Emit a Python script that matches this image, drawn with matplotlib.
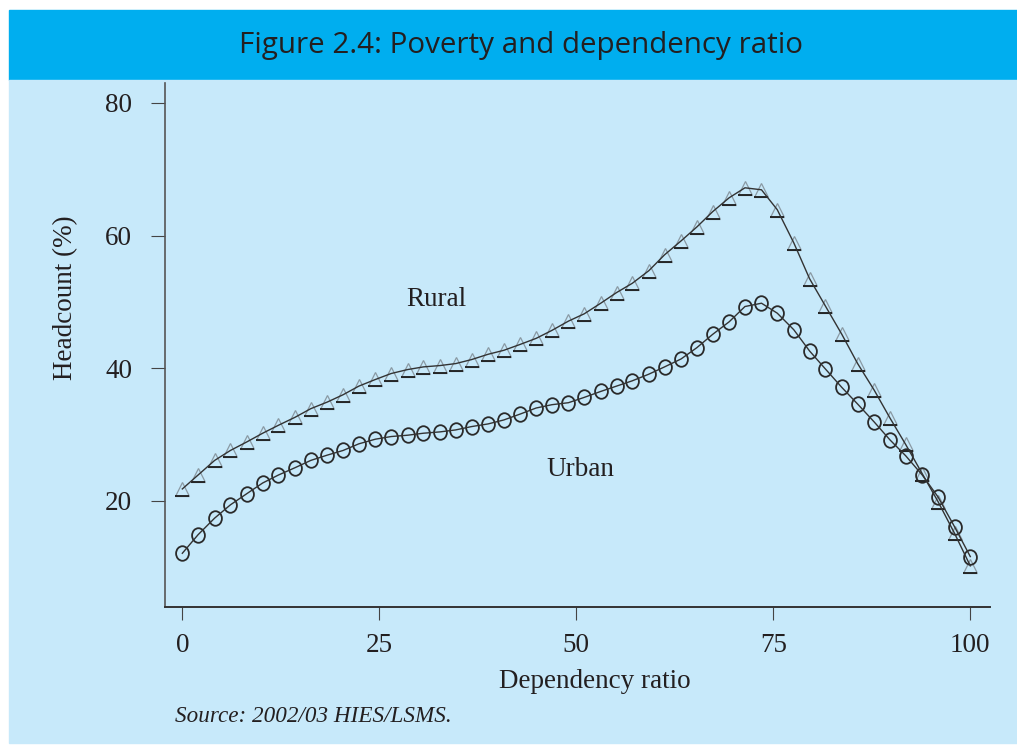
import matplotlib
matplotlib.use("Agg")
import matplotlib.pyplot as plt
from matplotlib.patches import Rectangle
from matplotlib.path import Path

# Dependency ratio positions of the 50 plotted points
dep_ratio = [0.0, 2.0, 4.1, 6.1, 8.2, 10.2, 12.2, 14.3, 16.3, 18.4,
             20.4, 22.4, 24.5, 26.5, 28.6, 30.6, 32.7, 34.7, 36.7, 38.8,
             40.8, 42.9, 44.9, 46.9, 49.0, 51.0, 53.1, 55.1, 57.1, 59.2,
             61.2, 63.3, 65.3, 67.3, 69.4, 71.4, 73.5, 75.5, 77.6, 79.6,
             81.6, 83.7, 85.7, 87.8, 89.8, 91.8, 93.9, 95.9, 98.0, 100.0]

# Headcount (%)
rural = [21.8, 23.9, 26.1, 27.6, 28.9, 30.2, 31.4, 32.6, 33.9, 34.9,
         36.0, 37.3, 38.3, 39.2, 39.8, 40.2, 40.4, 40.7, 41.3, 42.1,
         42.7, 43.6, 44.5, 45.7, 47.1, 48.2, 49.8, 51.4, 52.8, 54.7,
         57.1, 59.2, 61.3, 63.6, 65.7, 67.2, 66.9, 63.9, 58.9, 53.5,
         49.4, 45.1, 40.7, 36.7, 32.5, 28.5, 24.1, 19.9, 15.1, 10.2]

urban = [12.1, 14.9, 17.4, 19.4, 21.1, 22.7, 23.9, 25.0, 26.1, 26.9,
         27.6, 28.6, 29.3, 29.7, 29.9, 30.2, 30.4, 30.7, 31.2, 31.6,
         32.2, 33.1, 34.0, 34.5, 34.8, 35.6, 36.5, 37.3, 38.1, 39.1,
         40.2, 41.4, 43.1, 45.1, 47.0, 49.3, 49.8, 48.3, 45.8, 42.6,
         39.9, 37.1, 34.6, 31.9, 29.2, 26.8, 23.9, 20.6, 16.1, 11.6]

x_ticks = [0, 25, 50, 75, 100]
y_ticks = [20, 40, 60, 80]

HEADER = "#00aeef"
PANEL = "#c7e9fa"
INK = "#231f20"

plt.rcParams["font.family"] = ["Liberation Serif", "DejaVu Serif"]

fig = plt.figure(figsize=(10.17, 7.45), dpi=100)
W, H = 1017, 745
fig.patches.append(Rectangle((9 / W, 1 - 80 / H), 1 - 9 / W, 70 / H,
                             transform=fig.transFigure, color=HEADER, zorder=-2))
fig.patches.append(Rectangle((9 / W, 1 - 743 / H), 1 - 9 / W, 663 / H,
                             transform=fig.transFigure, color=PANEL, zorder=-2))
fig.text(521 / W, 1 - 45 / H, "Figure 2.4: Poverty and dependency ratio",
         family="Open Sans", fontsize=21.3, color=INK, ha="center", va="center")

ax = fig.add_axes([165 / W, 1 - 607 / H, 825 / W, 524 / H])
ax.set_facecolor("none")

# markers: gray open triangles with a dark base line, open ellipses
base_line = Path([(-1, -1), (1, -1)], [Path.MOVETO, Path.LINETO])
circ = Path.unit_circle()
ellipse = Path(circ.vertices * [0.88, 1.0], circ.codes)

ax.plot(dep_ratio, rural, color="#333333", lw=1.0, zorder=3)
ax.plot(dep_ratio, rural, ls="none", marker="^", ms=9.5, mfc="none",
        mec="#8a9aa4", mew=0.9, zorder=2)
ax.plot(dep_ratio, rural, ls="none", marker=base_line, ms=9.5,
        mec="#1a1a1a", mew=1.3, zorder=2)

ax.plot(dep_ratio, urban, color="#333333", lw=1.0, zorder=3)
ax.plot(dep_ratio, urban, ls="none", marker=ellipse, ms=10.5, mfc="none",
        mec="#2a2a2a", mew=1.3, zorder=2)

ax.text(32.2, 49.4, "Rural", fontsize=19.5, color=INK, ha="center", va="baseline")
ax.text(50.5, 23.8, "Urban", fontsize=19.5, color=INK, ha="center", va="baseline")

ax.set_xlim(-2.2, 102.5)
ax.set_ylim(4.0, 83.0)
ax.set_xticks(x_ticks)
ax.set_yticks(y_ticks)
ax.tick_params(axis="both", labelsize=19.5, labelcolor=INK, color="#444444", width=0.8)
ax.tick_params(axis="x", length=9, pad=10)
ax.tick_params(axis="y", length=10, pad=13.5)

for side in ("top", "right"):
    ax.spines[side].set_visible(False)
ax.spines["left"].set_color("#555555")
ax.spines["left"].set_linewidth(1.2)
ax.spines["bottom"].set_color("#333333")
ax.spines["bottom"].set_linewidth(1.4)

ax.set_xlabel("Dependency ratio", fontsize=19.5, color=INK, va="center")
ax.xaxis.set_label_coords(0.521, -0.143)
ax.set_ylabel("Headcount (%)", fontsize=19.5, color=INK, va="center")
ax.yaxis.set_label_coords(-0.121, 0.59)

fig.text(175 / W, 1 - 717 / H, "Source: 2002/03 HIES/LSMS.", fontsize=16.7,
         style="italic", color=INK, ha="left", va="center")

fig.savefig("out.png", dpi=100)
